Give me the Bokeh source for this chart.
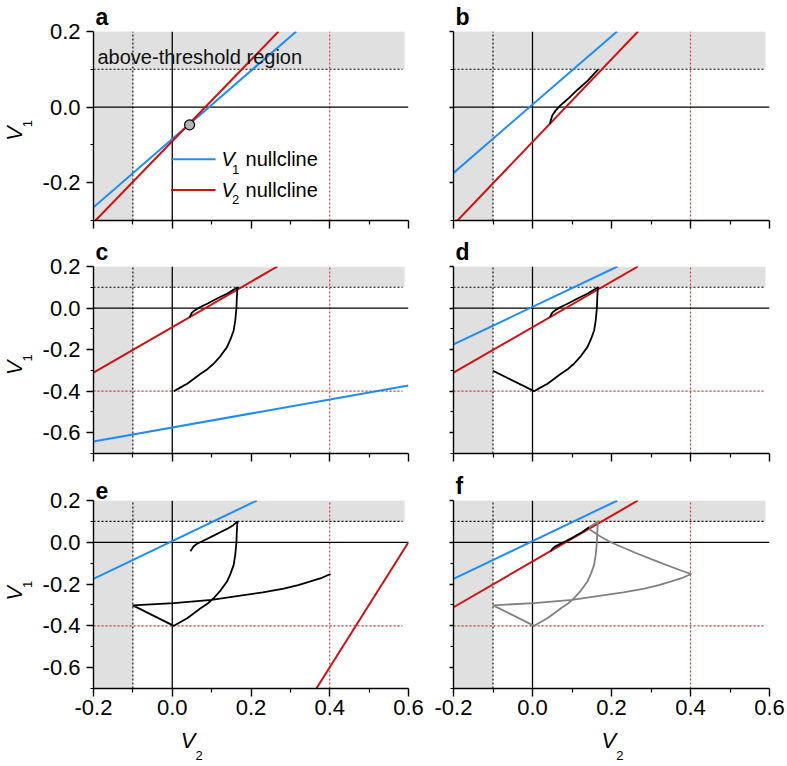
import numpy as np
from bokeh.plotting import figure
from bokeh.models import Range1d, FixedTicker, PrintfTickFormatter, Label, Title
from bokeh.layouts import column, row
from bokeh.embed import file_html
from bokeh.resources import INLINE

# ---------------- data ----------------
x_range = (-0.2, 0.6)
y_range_ab = (-0.3, 0.2)
y_range_cf = (-0.7, 0.2)

x_major = [-0.2, 0.0, 0.2, 0.4, 0.6]
x_minor = [-0.1, 0.1, 0.3, 0.5]
y_major_ab = [-0.2, 0.0, 0.2]
y_minor_ab = [-0.3, -0.1, 0.1]
y_major_cf = [-0.6, -0.4, -0.2, 0.0, 0.2]
y_minor_cf = [-0.7, -0.5, -0.3, -0.1, 0.1]

v2_threshold = -0.1      # black dotted vertical, grey band edge
v1_threshold = 0.1       # black dotted horizontal, grey band edge
v2_reset = 0.4           # red dotted vertical
v1_reset = -0.4          # red dotted horizontal
band_end = 0.59
dotted_end = 0.585

# nullclines (V2 endpoints, V1 endpoints)
blue_a_v2, blue_a_v1 = [-0.2, 0.315], [-0.265, 0.2]
red_a_v2, red_a_v1 = [-0.195, 0.27], [-0.3, 0.2]
blue_b_v2, blue_b_v1 = [-0.2, 0.214], [-0.174, 0.2]
red_b_v2, red_b_v1 = [-0.2, 0.267], [-0.311, 0.2]
blue_c_v2, blue_c_v1 = [-0.2, 0.6], [-0.642, -0.373]
blue_d_v2, blue_d_v1 = [-0.2, 0.215], [-0.175, 0.2]
red_e_v2, red_e_v1 = [0.366, 0.6], [-0.7, 0.0]

fixed_point_v2, fixed_point_v1 = [0.044], [-0.047]

# trajectory pieces
rise_v2 = [0.044, 0.046, 0.050, 0.058, 0.070, 0.090, 0.114, 0.140, 0.166]
rise_v1 = [-0.045, -0.036, -0.022, -0.010, 0.004, 0.022, 0.046, 0.070, 0.100]
fall_v2 = [0.166, 0.165, 0.164, 0.163, 0.160, 0.156, 0.148, 0.139, 0.123, 0.105, 0.090, 0.072, 0.055, 0.038, 0.020, 0.004]
fall_v1 = [0.100, 0.085, 0.050, 0.000, -0.060, -0.108, -0.150, -0.188, -0.230, -0.268, -0.293, -0.316, -0.340, -0.364, -0.383, -0.400]
reset_v2 = [0.004, -0.100]
reset_v1 = [-0.400, -0.302]
sweep_v2 = [-0.100, 0.004, 0.100, 0.173, 0.230, 0.283, 0.320, 0.351, 0.380, 0.402]
sweep_v1 = [-0.302, -0.291, -0.276, -0.255, -0.240, -0.222, -0.205, -0.187, -0.170, -0.152]
rise_e_v2 = [0.046, 0.050, 0.054, 0.062, 0.071, 0.088, 0.105, 0.122, 0.139, 0.155, 0.166]
rise_e_v1 = [-0.043, -0.032, -0.020, -0.008, 0.000, 0.016, 0.032, 0.048, 0.064, 0.082, 0.100]
rise_f_v2 = [0.046, 0.050, 0.056, 0.068, 0.085, 0.105, 0.125, 0.143]
rise_f_v1 = [-0.043, -0.032, -0.022, -0.010, 0.006, 0.026, 0.048, 0.072]
return_v2 = [0.402, 0.376, 0.320, 0.260, 0.198, 0.170, 0.143]
return_v1 = [-0.152, -0.135, -0.095, -0.050, 0.000, 0.030, 0.064]

# ---------------- style / layout ----------------
FONT = "Liberation Sans"
BLUE = "#1f8cf5"
RED = "#cc1111"
RED_DOT = "#dd2a2a"
GREY_BAND = "#e0e0e0"
GREY_TRAJ = "#808080"

STRIP_W = 35
col_geom = [(395, 58, 22), (356, 23, 17)]           # width, border left, border right
row_geom = [(234, 30, 14), (234, 32, 15), (258, 32, 38)]  # height, border top, border bottom
XSTRIP_H = 38


def panel(letter, ci, ri, yr, ymaj, ymin):
    w, mbl, mbr = col_geom[ci]
    h, mbt, mbb = row_geom[ri]
    p = figure(width=w, height=h, min_border_left=mbl, min_border_right=mbr,
               min_border_top=mbt, min_border_bottom=mbb,
               x_range=Range1d(*x_range), y_range=Range1d(*yr),
               output_backend="svg", toolbar_location=None, tools="")
    p.outline_line_color = None
    p.grid.visible = False
    p.background_fill_color = "white"
    p.border_fill_color = "white"
    p.title = Title(text=letter, align="left", offset=2, standoff=3,
                    text_font=FONT, text_font_style="bold", text_font_size="23px",
                    text_color="black")

    xa = p.xaxis[0]
    xa.ticker = FixedTicker(ticks=x_major, minor_ticks=x_minor)
    xa.formatter = PrintfTickFormatter(format="%.1f")
    xa.major_tick_out = 8
    xa.major_tick_in = 0
    xa.minor_tick_out = 4
    xa.minor_tick_in = 0
    xa.axis_line_width = 1.4
    xa.major_tick_line_width = 1.4
    xa.minor_tick_line_width = 1.2
    xa.major_label_text_font = FONT
    xa.major_label_text_font_size = "22px"
    xa.major_label_text_color = "black"
    xa.major_label_standoff = 3
    if ri < 2:
        xa.major_label_overrides = {t: "" for t in x_major}
        xa.major_label_text_font_size = "0px"

    ya = p.yaxis[0]
    ya.ticker = FixedTicker(ticks=ymaj, minor_ticks=ymin)
    ya.formatter = PrintfTickFormatter(format="%.1f")
    ya.major_tick_out = 7 if ci == 0 else 4
    ya.major_tick_in = 0
    ya.minor_tick_out = 3
    ya.minor_tick_in = 0
    ya.axis_line_width = 1.4
    ya.major_tick_line_width = 1.4
    ya.minor_tick_line_width = 1.2
    ya.major_label_text_font = FONT
    ya.major_label_text_font_size = "22px"
    ya.major_label_text_color = "black"
    ya.major_label_standoff = 6
    if ci == 1:
        ya.major_label_overrides = {t: "" for t in ymaj}
        ya.major_label_text_font_size = "0px"

    y0, y1 = yr
    # grey regions
    p.quad(left=[x_range[0]], right=[v2_threshold], bottom=[y0], top=[y1],
           fill_color=GREY_BAND, line_color=None)
    p.quad(left=[x_range[0]], right=[band_end], bottom=[v1_threshold], top=[y1],
           fill_color=GREY_BAND, line_color=None)
    # dotted guides
    p.line([v2_threshold, v2_threshold], [y0, y1], line_color="black",
           line_width=1.1, line_dash="2 2")
    p.line([x_range[0], dotted_end], [v1_threshold, v1_threshold], line_color="black",
           line_width=1.1, line_dash="2 2")
    p.line([v2_reset, v2_reset], [y0, y1], line_color=RED_DOT,
           line_width=1.1, line_dash="2 2")
    if y0 < v1_reset:
        p.line([x_range[0], dotted_end], [v1_reset, v1_reset], line_color=RED_DOT,
               line_width=1.1, line_dash="2 2")
    # zero lines
    p.line([x_range[0], x_range[1]], [0, 0], line_color="black", line_width=1.3)
    p.line([0, 0], [y0, y1], line_color="black", line_width=1.3)
    return p


def blank(w, h):
    s = figure(width=w, height=h, x_range=Range1d(0, w), y_range=Range1d(h, 0),
               min_border=0, x_axis_location=None, y_axis_location=None,
               output_backend="svg", toolbar_location=None, tools="")
    s.outline_line_color = None
    s.grid.visible = False
    s.background_fill_color = "white"
    s.border_fill_color = "white"
    return s


def ylabel_strip(ri):
    h, mbt, _ = row_geom[ri]
    fh = row_geom[ri][0] - row_geom[ri][1] - row_geom[ri][2]
    mid = mbt + fh / 2
    s = blank(STRIP_W, h)
    s.add_layout(Label(x=14, y=mid + 1.5, text="V", angle=np.pi / 2,
                       text_font=FONT, text_font_style="italic", text_font_size="22px",
                       text_align="center", text_baseline="middle", text_color="black"))
    s.add_layout(Label(x=27, y=mid - 11, text="1", angle=np.pi / 2,
                       text_font=FONT, text_font_size="13px",
                       text_align="center", text_baseline="middle", text_color="black"))
    return s


LW_N = 2.0
LW_T = 1.8

# ---- a ----
pa = panel("a", 0, 0, y_range_ab, y_major_ab, y_minor_ab)
pa.line(blue_a_v2, blue_a_v1, line_color=BLUE, line_width=LW_N)
pa.line(red_a_v2, red_a_v1, line_color=RED, line_width=LW_N)
pa.scatter(fixed_point_v2, fixed_point_v1, size=10, fill_color="#b4b4b4",
           line_color="black", line_width=1.2)
pa.add_layout(Label(x=x_range[0], y=y_range_ab[1], x_offset=4, y_offset=-25,
                    text="above-threshold region", text_font=FONT, text_font_size="20px",
                    text_baseline="alphabetic", text_color="#111111"))
# legend
leg_v2 = [-0.003, 0.110]
leg_blue_v1 = -0.138
leg_red_v1 = -0.219
for v1v, col, sub in [(leg_blue_v1, BLUE, "1"), (leg_red_v1, RED, "2")]:
    pa.line(leg_v2, [v1v, v1v], line_color=col, line_width=LW_N)
    pa.add_layout(Label(x=leg_v2[1], y=v1v, x_offset=6, text="V", text_font=FONT,
                        text_font_style="italic", text_font_size="20px",
                        text_baseline="middle", text_color="black"))
    pa.add_layout(Label(x=leg_v2[1], y=v1v, x_offset=16.5, y_offset=-10, text=sub,
                        text_font=FONT, text_font_size="13px",
                        text_baseline="middle", text_color="black"))
    pa.add_layout(Label(x=leg_v2[1], y=v1v, x_offset=30, text="nullcline", text_font=FONT,
                        text_font_size="20px", text_baseline="middle", text_color="black"))

# ---- b ----
pb = panel("b", 1, 0, y_range_ab, y_major_ab, y_minor_ab)
pb.line(blue_b_v2, blue_b_v1, line_color=BLUE, line_width=LW_N)
pb.line(red_b_v2, red_b_v1, line_color=RED, line_width=LW_N)
pb.line(rise_v2, rise_v1, line_color="black", line_width=LW_T)

# ---- c ----
pc = panel("c", 0, 1, y_range_cf, y_major_cf, y_minor_cf)
pc.line(blue_c_v2, blue_c_v1, line_color=BLUE, line_width=LW_N)
pc.line(red_b_v2, red_b_v1, line_color=RED, line_width=LW_N)
pc.line(rise_v2 + fall_v2[1:], rise_v1 + fall_v1[1:], line_color="black", line_width=LW_T)

# ---- d ----
pd_ = panel("d", 1, 1, y_range_cf, y_major_cf, y_minor_cf)
pd_.line(blue_d_v2, blue_d_v1, line_color=BLUE, line_width=LW_N)
pd_.line(red_b_v2, red_b_v1, line_color=RED, line_width=LW_N)
pd_.line(rise_v2 + fall_v2[1:] + reset_v2[1:], rise_v1 + fall_v1[1:] + reset_v1[1:],
         line_color="black", line_width=LW_T)

# ---- e ----
pe = panel("e", 0, 2, y_range_cf, y_major_cf, y_minor_cf)
pe.line(blue_d_v2, blue_d_v1, line_color=BLUE, line_width=LW_N)
pe.line(red_e_v2, red_e_v1, line_color=RED, line_width=LW_N)
pe.line(rise_e_v2 + fall_v2[1:] + reset_v2[1:] + sweep_v2[1:],
        rise_e_v1 + fall_v1[1:] + reset_v1[1:] + sweep_v1[1:],
        line_color="black", line_width=LW_T)

# ---- f ----
pf = panel("f", 1, 2, y_range_cf, y_major_cf, y_minor_cf)
pf.line(blue_d_v2, blue_d_v1, line_color=BLUE, line_width=LW_N)
pf.line(red_b_v2, red_b_v1, line_color=RED, line_width=LW_N)
pf.line([rise_f_v2[-1]] + fall_v2 + reset_v2[1:] + sweep_v2[1:] + return_v2[1:],
        [rise_f_v1[-1]] + fall_v1 + reset_v1[1:] + sweep_v1[1:] + return_v1[1:],
        line_color=GREY_TRAJ, line_width=LW_T)
pf.line(rise_f_v2, rise_f_v1, line_color="black", line_width=LW_T)

# ---- x axis label strip ----
total_w = STRIP_W + col_geom[0][0] + col_geom[1][0]
xs = blank(total_w, XSTRIP_H)
for vx in [187.5, 608.3]:
    xs.add_layout(Label(x=vx, y=14, text="V", text_font=FONT, text_font_style="italic",
                        text_font_size="22px", text_align="center", text_baseline="middle",
                        text_color="black"))
    xs.add_layout(Label(x=vx + 11, y=29, text="2", text_font=FONT, text_font_size="13px",
                        text_align="center", text_baseline="middle", text_color="black"))

layout = column(row(ylabel_strip(0), pa, pb),
                row(ylabel_strip(1), pc, pd_),
                row(ylabel_strip(2), pe, pf),
                xs)
open("out.html", "w").write(file_html(layout, INLINE))
